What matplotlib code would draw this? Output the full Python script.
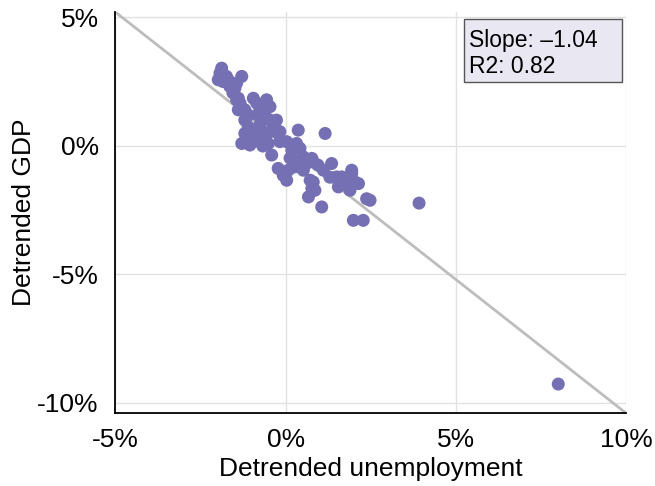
import matplotlib.pyplot as plt
from matplotlib.patches import Rectangle
import numpy as np

plt.rcParams['font.family'] = ['Liberation Sans', 'DejaVu Sans']

# detrended unemployment vs detrended GDP, in percent
unemp = [-1.88, -1.93, -1.98, -1.84, -1.69, -1.64, -1.49, -1.44, -1.29, -1.39,
         -1.34, -0.95, -0.85, -0.56, -0.46, -0.61, -1.20, -1.10, -1.39, -0.46,
         -0.27, -0.56, -1.20, -1.10, -1.20, -1.15, -0.95, -0.81, -0.71, -0.90,
         -0.46, -0.22, -0.17, -0.51, 0.37, -0.41, 0.18, 0.32, 0.52, -1.29,
         1.16, 0.03, 0.42, 0.77, 0.08, -0.22, -0.07, 0.27, 0.52, 0.57,
         1.11, 1.35, 1.50, 1.94, 1.89, 2.04, 0.81, 0.77, 0.67, 0.86,
         1.06, 1.55, 1.99, 2.28, 2.48, 2.38, 2.14, 1.94, 1.65, 3.92,
         8.01, 0.81, 0.03, 0.72, -0.76, -0.70, -1.05, -1.74, -1.55, -0.82,
         -0.32, 0.13, 0.95, 1.30, 1.72, 0.42, -0.67, -0.76, -0.17, -1.44,
         -1.29, -1.15]
gdp = [3.02, 2.83, 2.57, 2.50, 2.57, 2.31, 2.24, 2.44, 2.70, 1.85,
       1.66, 1.85, 1.66, 1.79, 1.52, 1.46, 1.40, 1.20, 1.40, 1.00,
       1.00, 1.07, 1.00, 0.74, 0.48, 0.22, 0.16, 0.35, 0.55, 0.55,
       0.55, 0.48, 0.16, 0.09, 0.61, -0.36, -0.17, 0.09, -0.43, 0.09,
       0.48, 0.16, -0.10, -0.49, -0.95, -0.88, -1.15, -0.82, -0.95, -0.75,
       -0.95, -0.69, -1.21, -0.95, -1.73, -1.41, -1.41, -1.66, -1.99, -1.73,
       -2.38, -1.60, -2.90, -2.90, -2.12, -2.06, -1.47, -1.08, -1.21, -2.23,
       -9.27, -0.63, -1.34, -1.34, 0.81, 0.22, 0.03, 2.70, 2.06, 1.20,
       0.69, -0.48, -0.75, -1.22, -1.46, -0.56, -0.01, 1.46, 0.55, 1.79,
       1.46, 1.13]

slope = -1.04
r2 = 0.82

fig = plt.figure(figsize=(6.55, 4.86), dpi=100)
ax = fig.add_axes([0.1763, 0.150, 0.7794, 0.825])

ax.set_xlim(-5, 10)
ax.set_ylim(-10.4, 5.2)
ax.set_xticks([-5, 0, 5, 10])
ax.set_yticks([-10, -5, 0, 5])
ax.set_xticklabels(['-5%', '0%', '5%', '10%'])
ax.set_yticklabels(['-10%', '-5%', '0%', '5%'])
ax.tick_params(length=0, labelsize=19, pad=12)
ax.tick_params(axis='x', pad=11)
ax.grid(True, color='#e2e2e2', lw=1)
ax.set_axisbelow(True)

for side in ['top', 'right']:
    ax.spines[side].set_visible(False)
for side in ['left', 'bottom']:
    ax.spines[side].set_linewidth(1.3)

# fitted line through the origin
xs = np.array([-5, 10])
ax.plot(xs, slope * xs, color='#bdbdbd', lw=2, zorder=2)

ax.scatter(unemp, gdp, s=88, color='#7570b3', edgecolors='none', zorder=3)

ax.set_xlabel('Detrended unemployment', fontsize=19, labelpad=3)
ax.set_ylabel('Detrended GDP', fontsize=19, labelpad=1)

ax.add_patch(Rectangle((0.683, 0.825), 0.309, 0.158, transform=ax.transAxes,
                       facecolor='#e9e7f2', edgecolor='#555555', lw=1, zorder=4))
ax.text(0.693, 0.930, f'Slope: \u2013{abs(slope):.2f}', transform=ax.transAxes,
        fontsize=16.5, va='center', ha='left', zorder=5)
ax.text(0.693, 0.865, f'R2: {r2:.2f}', transform=ax.transAxes,
        fontsize=16.5, va='center', ha='left', zorder=5)

fig.savefig('out.png', dpi=100)
